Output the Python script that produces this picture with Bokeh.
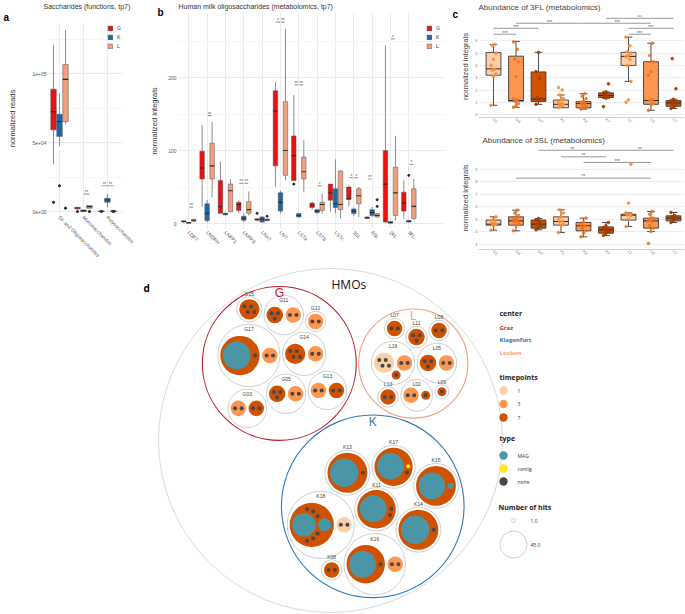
import math
import numpy as np
from bokeh.plotting import figure
from bokeh.layouts import row, column
from bokeh.models import (ColumnDataSource, Range1d, FixedTicker, Title,
                          Legend, LegendItem)
from bokeh.core.properties import value
from bokeh.embed import file_html
from bokeh.resources import INLINE

SC = 1.0


def S(v):
    return int(round(v * SC))


FONT = "Liberation Sans"
TXT = "#333333"

# ------------------------------------------------------------------ data a
a_cats = ["Di- and Oligosaccharides", "Monosaccharides", "Polysaccharides"]
groups = ["G", "K", "L"]
a_q1 = [[59300, 2000, 0], [54500, 0, 6700], [65300, 2400, 0]]
a_med = [[72500, 2600, 200], [65300, 500, 8400], [95900, 3600, 300]]
a_q3 = [[88800, 3000, 400], [70600, 1200, 9600], [106700, 4300, 500]]
a_lo = [[34200, 1200, 0], [47400, 0, 3100], [63400, 2000, 0]]
a_hi = [[120800, 3200, 500], [85600, 1500, 12700], [131800, 4500, 700]]
a_out_cat = [0, 0, 0, 1, 1, 2, 2]
a_out_grp = [0, 1, 2, 0, 2, 0, 2]
a_out_val = [6700, 18700, 2400, 0, 0, 0, 0]
a_sig_cat = [1, 2, 2]
a_sig_grp = [1, 0, 1]
a_sig_y = [12700, 18700, 18700]
a_sig_lab = ["**", "**", "**"]

# ------------------------------------------------------------------ data b
b_cats = ["LDFT", "LNDFH", "LNFP1", "LNFP3", "LNnT", "LNT", "LSTa", "LSTb",
          "LSTc", "3SL", "6SL", "2FL", "3FL"]
b_q1 = [[2, 61, 14, 18, 4.5, 79, 59, 22, 32, 33, 7, 2, 17],
        [0.5, 4, 12, 4.5, 2, 17, 9, 15, 22, 13.6, 11, 0.5, 2],
        [3, 61, 16, 14, 4, 66, 61, 18, 19, 27, 9, 11, 7]]
b_med = [[3, 76, 23, 26, 5.5, 154, 93, 25, 42, 34, 8, 54, 28],
         [1, 14, 13, 7, 6, 29, 11, 17, 27, 17, 15, 1.5, 3],
         [4.5, 79, 45, 19, 5, 100, 71, 26, 26, 38, 11, 42, 23.5]]
b_q3 = [[3.5, 99, 59, 29, 6.5, 182, 120, 28, 54, 50, 9, 100, 43],
        [1.5, 27, 14, 10, 9, 42, 13.6, 19, 47.5, 20, 19, 2.5, 4],
        [5.5, 110, 54, 30, 6, 167, 91, 29, 72, 47.5, 13.6, 77, 47.5]]
b_lo = [[1, 23, 14, 14, 3, 50, 59, 19, 16, 23.5, 6.5, 1, 7],
        [0, 2, 11, 2, 1, 14, 8, 13, 14, 10, 9, 0, 1],
        [2, 36, 15, 11, 3, 59, 43, 13.6, 7, 9, 8, 4.5, 4.5]]
b_hi = [[4, 135, 85, 32, 7, 194, 176, 30, 54, 52, 9.5, 244, 59],
        [2, 32, 15, 14, 10, 45, 14, 20, 88, 22, 22.6, 3, 5],
        [7, 139, 61, 44, 7, 267, 114, 41, 73, 50, 14, 120, 61]]
b_out_cat = [4, 4, 6, 10, 10, 12]
b_out_grp = [0, 2, 0, 2, 2, 1]
b_out_val = [14, 10, 54, 23.5, 32.6, 66]
b_sig_cat = [0, 1, 3, 3, 5, 5, 6, 6, 7, 9, 9, 10, 11, 12]
b_sig_grp = [1, 1, 0, 1, 0, 1, 0, 1, 1, 0, 1, 0, 1, 1]
b_sig_y = [22.6, 148, 55, 55, 276, 276, 190, 190, 52, 63, 63, 61, 253, 81]
b_sig_lab = ["**", "**", "**", "**", "*", "**", "**", "**", "*", "*", "*",
             "**", "*", "*"]

# ------------------------------------------------------------------ data c
c_labels = ["G1", "G3", "G7", "K1", "K3", "K7", "L1", "L3", "L7"]
c_tp = [1, 3, 7, 1, 3, 7, 1, 3, 7]
fl_q1 = [3.2, 1.1, 1.07, 0.56, 0.55, 1.39, 4.0, 0.84, 0.68]
fl_med = [3.72, 1.15, 1.27, 0.84, 0.9, 1.55, 4.73, 1.15, 0.95]
fl_q3 = [5.05, 4.75, 3.47, 1.19, 1.06, 1.77, 5.06, 4.3, 1.14]
fl_lo = [0.76, 0.6, 0.84, 0.6, 0.45, 1.3, 2.7, 0.35, 0.5]
fl_hi = [5.7, 5.95, 5.06, 1.6, 1.7, 1.85, 6.3, 5.8, 1.25]
fl_pts = [[0.76, 3.1, 3.3, 3.6, 3.7, 4.0, 4.5, 5.0, 5.6, 5.7],
          [0.6, 0.7, 0.9, 1.1, 1.2, 1.3, 3.1, 4.3, 4.5, 5.3, 5.9],
          [0.84, 1.1, 1.3, 1.4, 2.95, 3.5, 5.06],
          [0.6, 0.7, 0.8, 0.85, 0.9, 1.0, 1.2, 1.3, 1.6, 2.0, 2.2],
          [0.45, 0.6, 0.7, 0.85, 0.9, 1.0, 1.1, 1.3, 1.5, 1.7],
          [0.65, 1.35, 1.45, 1.55, 1.6, 1.75, 1.85, 2.5],
          [1.0, 1.2, 2.7, 4.0, 4.5, 4.7, 4.8, 5.0, 5.1, 5.6, 6.3],
          [0.35, 0.8, 0.9, 1.15, 1.2, 3.2, 3.5, 4.3, 4.8, 5.8],
          [0.5, 0.6, 0.75, 0.9, 1.0, 1.1, 1.25, 2.1, 4.55]]
fl_sig_x0 = [0, 0, 1, 4, 5, 6, 6]
fl_sig_x1 = [1, 2, 4, 7, 8, 8, 7]
fl_sig_y = [6.53, 7.01, 7.42, 7.42, 7.82, 7.01, 6.53]
fl_sig_lab = ["***"] * 7

sl_q1 = [4.54, 4.54, 4.3, 4.54, 4.09, 3.9, 4.94, 4.3, 4.88]
sl_med = [4.62, 4.88, 4.62, 4.83, 4.49, 4.17, 5.33, 4.88, 5.1]
sl_q3 = [4.94, 5.2, 4.94, 5.2, 4.75, 4.4, 5.41, 5.1, 5.28]
sl_lo = [4.14, 4.09, 4.17, 3.95, 3.61, 3.72, 4.43, 4.03, 4.75]
sl_hi = [5.2, 5.73, 5.07, 5.76, 5.1, 4.75, 5.52, 5.63, 5.55]
sl_pts = [[4.14, 4.5, 4.6, 4.65, 4.7, 4.9, 5.0, 5.2],
          [4.09, 4.5, 4.7, 4.8, 4.9, 5.0, 5.1, 5.3, 5.5, 5.73],
          [4.17, 4.35, 4.5, 4.62, 4.8, 4.95, 5.07],
          [3.95, 4.5, 4.6, 4.8, 4.85, 5.0, 5.2, 5.5, 5.76],
          [3.61, 3.9, 4.1, 4.3, 4.5, 4.6, 4.8, 5.1],
          [3.72, 3.9, 4.0, 4.15, 4.2, 4.35, 4.5, 4.75],
          [4.43, 5.0, 5.3, 5.35, 5.4, 5.52, 6.29, 9.39],
          [3.08, 4.03, 4.3, 4.5, 4.8, 4.9, 5.0, 5.1, 5.4, 5.63],
          [4.75, 4.9, 5.1, 5.2, 5.3, 5.55]]
sl_sig_x0 = [2, 5, 3, 4, 1]
sl_sig_x1 = [5, 8, 5, 7, 7]
sl_sig_y = [10.5, 10.5, 9.98, 9.53, 8.28]
sl_sig_lab = ["**", "**", "**", "***", "**"]

# ------------------------------------------------------------------ data d
d_samples = ["G17", "G14", "G11", "G05", "G15", "G03", "G13", "G12",
             "K18", "K16", "K11", "K08", "K13", "K14", "K17", "K15",
             "L18", "L05", "L02", "L11", "L13", "L09", "L07", "L08"]
bubble_sample = ["G17", "G17", "G14", "G14", "G11", "G11", "G05", "G05",
                 "G13", "G13", "G03", "G03", "G15", "G12",
                 "K18", "K18", "K16", "K16", "K11", "K13", "K17", "K14",
                 "K15", "K08",
                 "L18", "L18", "L18", "L05", "L05", "L02", "L02", "L11",
                 "L07", "L08", "L13", "L09"]
bubble_tp = [7, 3, 7, 3, 7, 3, 7, 3, 3, 7, 3, 7, 7, 3,
             7, 1, 7, 3, 7, 7, 7, 7, 7, 7,
             1, 3, 7, 7, 3, 3, 7, 7, 7, 7, 7, 7]
bubble_mag = [[48], [], [], [], [], [], [], [], [], [], [], [], [], [],
              [34, 11], [], [45], [], [45], [50], [44], [50], [44, 2], [],
              [], [], [], [], [], [], [], [], [], [], [], []]
bubble_contig = [0] * 20 + [1] + [0] * 15
bubble_none = [1, 2, 4, 2, 3, 2, 3, 2, 2, 2, 2, 2, 4, 2,
               6, 2, 1, 2, 2, 1, 1, 1, 0, 2,
               4, 2, 1, 3, 2, 2, 1, 3, 2, 2, 2, 1]
center_keys = ["K", "G", "L"]
center_names = ["Graz", "Klagenfurt", "Leoben"]
center_colors = ["#be1e2d", "#2b78b9", "#f5a082"]
tp_levels = [1, 3, 7]
tp_colors = ["#fdcfa8", "#fd9650", "#d05200"]
hit_types = ["MAG", "contig", "none"]
hit_colors = ["#4a96a6", "#fde725", "#474747"]
size_legend = [1.0, 45.0]

GRP_COL = ["#ee1010", "#1b69a6", "#f0a07d"]


# ------------------------------------------------------------------ helpers
def make_fig(g, xr, yr, **kw):
    x0, y0, w, h, fl, ft, fr, fb = g
    p = figure(width=S(w), height=S(h),
               x_range=Range1d(*xr), y_range=Range1d(*yr),
               output_backend="svg", toolbar_location=None,
               min_border_left=S(fl - x0),
               min_border_right=S(w) - S(fr - x0),
               min_border_top=S(ft - y0),
               min_border_bottom=S(h) - S(fb - y0), **kw)
    p.title_location = None
    p.outline_line_color = None
    p.background_fill_color = "white"
    p.border_fill_color = "white"
    return p


def add_titles(p, letter, l_off, l_stand, text, t_size, t_off, t_stand,
               t_color=TXT):
    if letter:
        p.add_layout(Title(text=letter, align="left", offset=l_off,
                           standoff=l_stand, text_font=FONT,
                           text_font_size="10px", text_font_style="bold",
                           text_color="#000000"), "above")
    p.add_layout(Title(text=text, align="left", offset=t_off,
                       standoff=t_stand, text_font=FONT,
                       text_font_size=t_size, text_font_style="normal",
                       text_color=t_color), "above")


def gg_style(p, ylabel, ystandoff):
    p.xgrid.grid_line_color = "#ebebeb"
    p.ygrid.grid_line_color = "#ebebeb"
    p.ygrid.minor_grid_line_color = "#f5f5f5"
    p.axis.axis_line_color = None
    p.axis.major_tick_line_color = None
    p.axis.minor_tick_line_color = None
    p.axis.major_tick_out = 0
    p.axis.major_tick_in = 0
    p.axis.minor_tick_out = 0
    p.axis.major_label_text_font = FONT
    p.axis.major_label_text_font_size = "5px"
    p.axis.major_label_text_color = "#555555"
    p.axis.major_label_standoff = 2
    p.yaxis.axis_label = ylabel
    p.yaxis.axis_label_text_font = FONT
    p.yaxis.axis_label_text_font_size = "7.5px"
    p.yaxis.axis_label_text_font_style = "normal"
    p.yaxis.axis_label_text_color = TXT
    p.yaxis.axis_label_standoff = ystandoff


def dodge_boxes(p, ncat, q1, med, q3, lo, hi, off, w):
    rends = []
    for gi in range(3):
        xc = np.arange(ncat) + (gi - 1) * off
        src = ColumnDataSource(dict(x=xc, q1=q1[gi], med=med[gi], q3=q3[gi],
                                    lo=lo[gi], hi=hi[gi],
                                    x0=xc - w / 2, x1=xc + w / 2))
        p.segment("x", "q3", "x", "hi", source=src, line_color="#707070",
                  line_width=0.8)
        p.segment("x", "lo", "x", "q1", source=src, line_color="#707070",
                  line_width=0.8)
        r = p.vbar(x="x", width=w, bottom="q1", top="q3", source=src,
                   fill_color=GRP_COL[gi], line_color="#505050",
                   line_width=0.5)
        p.segment("x0", "med", "x1", "med", source=src, line_color="#2a2a2a",
                  line_width=1.1)
        rends.append(r)
    return rends


def sig_marks(p, x0, x1, y, labs, lift, size, lc="#a0a0a0", lw=1.2):
    x0 = np.asarray(x0, float)
    x1 = np.asarray(x1, float)
    y = np.asarray(y, float)
    p.segment(x0, y, x1, y, line_color=lc, line_width=lw)
    p.text((x0 + x1) / 2, y + lift, text=labs, text_font=value(FONT),
           text_font_size=size, text_color="#555555", text_align="center",
           text_baseline="alphabetic")


def small_legend(rends, loc):
    leg = Legend(items=[LegendItem(label=g, renderers=[r])
                        for g, r in zip(groups, rends)])
    leg.location = loc
    leg.glyph_width = 6
    leg.glyph_height = 6
    leg.label_height = 6
    leg.label_width = 4
    leg.label_standoff = 4
    leg.spacing = 3
    leg.padding = 1
    leg.margin = 0
    leg.label_text_font = FONT
    leg.label_text_font_size = "5px"
    leg.label_text_color = TXT
    leg.background_fill_alpha = 0
    leg.border_line_color = None
    return leg


# ------------------------------------------------------------------ panel a
GA = (0, 0, 145, 265, 48, 20, 122, 214)
pa = make_fig(GA, (-0.46, 2.63), (-2150, 137200))
gg_style(pa, "normalized reads", 12)
add_titles(pa, "a", -45, 0, "Saccharides (functions, tp7)", "7px", -5, 0)
pa.xaxis.ticker = FixedTicker(ticks=[0, 1, 2])
pa.xaxis.major_label_overrides = {i: c for i, c in enumerate(a_cats)}
pa.xaxis.major_label_orientation = -math.pi / 4
pa.yaxis.ticker = FixedTicker(ticks=[0, 50000, 100000],
                              minor_ticks=[25000, 75000, 125000])
pa.yaxis.major_label_overrides = {0: "0e+00", 50000: "5e+04",
                                  100000: "1e+05"}
A_OFF = 0.25
ra = dodge_boxes(pa, 3, a_q1, a_med, a_q3, a_lo, a_hi, A_OFF, 0.23)
pa.scatter(np.array(a_out_cat) + (np.array(a_out_grp) - 1) * A_OFF,
           a_out_val, size=2.2, color="#222222")
sig_marks(pa, np.array(a_sig_cat) + (np.array(a_sig_grp) - 1) * A_OFF,
          np.array(a_sig_cat) + np.array(a_sig_grp) * A_OFF,
          a_sig_y, a_sig_lab, 900, "4.5px")
pa.add_layout(small_legend(ra, (107 - 48, 214 - 49)))

# ------------------------------------------------------------------ panel b
GB = (145, 0, 300, 265, 178, 11, 445, 229)
pb = make_fig(GB, (-0.56, 14.0), (-8.2, 289.2))
gg_style(pb, "normalized integrals", 6)
add_titles(pb, "b", -21, -11, "Human milk oligosaccharides (metabolomics, tp7)",
           "7px", 0, 1)
pb.xaxis.ticker = FixedTicker(ticks=list(range(len(b_cats))))
pb.xaxis.major_label_overrides = {i: c for i, c in enumerate(b_cats)}
pb.xaxis.major_label_orientation = -math.pi / 4
pb.yaxis.ticker = FixedTicker(ticks=[0, 100, 200], minor_ticks=[50, 150, 250])
B_OFF = 0.273
rb = dodge_boxes(pb, len(b_cats), b_q1, b_med, b_q3, b_lo, b_hi, B_OFF, 0.245)
pb.scatter(np.array(b_out_cat) + (np.array(b_out_grp) - 1) * B_OFF,
           b_out_val, size=2.0, color="#222222")
sig_marks(pb, np.array(b_sig_cat) + (np.array(b_sig_grp) - 1) * B_OFF + 0.03,
          np.array(b_sig_cat) + np.array(b_sig_grp) * B_OFF - 0.03,
          b_sig_y, b_sig_lab, 2, "4.5px")
pb.add_layout(small_legend(rb, (426 - 178, 229 - 49)))


# ------------------------------------------------------------------ panel c
def c_panel(g, yr, yticks, q1, med, q3, lo, hi, pts, sx0, sx1, sy, slab):
    p = make_fig(g, (-0.667, 8.49), yr)
    p.xgrid.grid_line_color = None
    p.ygrid.grid_line_color = "#eeeeee"
    p.yaxis.axis_line_color = None
    p.xaxis.axis_line_color = "#d0d0d0"
    p.axis.major_tick_line_color = None
    p.axis.minor_tick_line_color = None
    p.axis.major_tick_out = 0
    p.axis.major_tick_in = 0
    p.axis.minor_tick_out = 0
    p.axis.major_label_text_font = FONT
    p.axis.major_label_text_font_size = "4px"
    p.axis.major_label_text_color = "#777777"
    p.axis.major_label_standoff = 1
    p.xaxis.ticker = FixedTicker(ticks=list(range(len(c_labels))))
    p.xaxis.major_label_overrides = {i: c for i, c in enumerate(c_labels)}
    p.xaxis.major_label_orientation = -math.pi / 4
    p.yaxis.ticker = FixedTicker(ticks=yticks)
    p.yaxis.axis_label = "normalized integrals"
    p.yaxis.axis_label_text_font = FONT
    p.yaxis.axis_label_text_font_size = "7.5px"
    p.yaxis.axis_label_text_font_style = "normal"
    p.yaxis.axis_label_text_color = "#444444"
    p.yaxis.axis_label_standoff = 2
    xc = np.arange(len(c_labels), dtype=float)
    w = 0.66
    cw = 0.34
    fills = [tp_colors[tp_levels.index(t)] for t in c_tp]
    src = ColumnDataSource(dict(x=xc, q1=q1, med=med, q3=q3, lo=lo, hi=hi,
                                x0=xc - w / 2, x1=xc + w / 2,
                                c0=xc - cw / 2, c1=xc + cw / 2, fill=fills))
    p.segment("x", "q3", "x", "hi", source=src, line_color="#3a3a3a",
              line_width=0.9)
    p.segment("x", "lo", "x", "q1", source=src, line_color="#3a3a3a",
              line_width=0.9)
    p.segment("c0", "hi", "c1", "hi", source=src, line_color="#3a3a3a",
              line_width=0.9)
    p.segment("c0", "lo", "c1", "lo", source=src, line_color="#3a3a3a",
              line_width=0.9)
    p.vbar(x="x", width=w, bottom="q1", top="q3", source=src,
           fill_color="fill", line_color="#3a3a3a", line_width=0.9)
    p.segment("x0", "med", "x1", "med", source=src, line_color="#2a2a2a",
              line_width=1.0)
    pcol = {1: "#fd8d3c", 3: "#ee7420", 7: "#a13c00"}
    px, py, pc = [], [], []
    for i, vals in enumerate(pts):
        for k, v in enumerate(vals):
            px.append(i + (((k * 7) % 5) - 2) * 0.055)
            py.append(v)
            pc.append(pcol[c_tp[i]])
    p.scatter(px, py, size=2.6, color=pc, alpha=0.9)
    yspan = yr[1] - yr[0]
    sig_marks(p, sx0, sx1, sy, slab, yspan * 0.012, "4.5px",
              lc="#8c8c8c", lw=0.9)
    return p


GC1 = (445, 0, 240, 128, 478, 12, 684, 121)
pc1 = c_panel(GC1, (-0.23, 8.05), list(range(0, 7)), fl_q1, fl_med, fl_q3,
              fl_lo, fl_hi, fl_pts, fl_sig_x0, fl_sig_x1, fl_sig_y, fl_sig_lab)
add_titles(pc1, "c", -26, -9, "Abundance of 3FL (metabolomics)", "8px", 0, 0,
           "#444444")

GC2 = (445, 128, 240, 137, 478, 146, 684, 249)
pc2 = c_panel(GC2, (2.6, 10.8), list(range(3, 10)), sl_q1, sl_med, sl_q3,
              sl_lo, sl_hi, sl_pts, sl_sig_x0, sl_sig_x1, sl_sig_y, sl_sig_lab)
add_titles(pc2, None, 0, 0, "Abundance of 3SL (metabolomics)", "8px", 4, 4,
           "#444444")

# ------------------------------------------------------------------ panel d
R1 = 2.1
PAD = 1.3


def tangent_points(a, ra, b, rb, rc):
    dx, dy = b[0] - a[0], b[1] - a[1]
    d = math.hypot(dx, dy)
    da, db = ra + rc, rb + rc
    if d < 1e-9 or d > da + db + 1e-9 or d < abs(da - db) - 1e-9:
        return []
    x = (da * da - db * db + d * d) / (2 * d)
    h = math.sqrt(max(da * da - x * x, 0.0))
    ux, uy = dx / d, dy / d
    px, py = a[0] + ux * x, a[1] + uy * x
    return [(px - uy * h, py + ux * h), (px + uy * h, py - ux * h)]


def enclose(pos, rad):
    if len(pos) == 1:
        return pos[0][0], pos[0][1], rad[0]

    def fmax(cx, cy):
        return max(math.hypot(x - cx, y - cy) + r for (x, y), r in zip(pos, rad))

    cx = sum(p[0] for p in pos) / len(pos)
    cy = sum(p[1] for p in pos) / len(pos)
    for it in range(1, 1500):
        best = -1
        for (x, y), r in zip(pos, rad):
            d = math.hypot(x - cx, y - cy)
            if d + r > best:
                best, fx, fy, fr, fd = d + r, x, y, r, d
        if fd > 1e-9:
            qx, qy = fx + (fx - cx) / fd * fr, fy + (fy - cy) / fd * fr
        else:
            qx, qy = fx + fr, fy
        cx += (qx - cx) / (it + 1)
        cy += (qy - cy) / (it + 1)
    step = fmax(cx, cy) * 0.05
    cur = fmax(cx, cy)
    while step > 1e-5:
        moved = False
        for t in range(16):
            a = 2 * math.pi * t / 16
            nx, ny = cx + step * math.cos(a), cy + step * math.sin(a)
            v = fmax(nx, ny)
            if v < cur - 1e-12:
                cx, cy, cur, moved = nx, ny, v, True
                break
        if not moved:
            step /= 2
    return cx, cy, cur


def pack(radii, pad, angle0, side):
    R = [r + pad for r in radii]
    n = len(R)
    pos = [(0.0, 0.0)]
    ax, ay = math.cos(angle0), math.sin(angle0)
    if n > 1:
        d = R[0] + R[1]
        pos.append((d * ax, d * ay))
    for i in range(2, n):
        r = R[i]
        w = sum(R[j] ** 2 for j in range(i))
        gx = sum(pos[j][0] * R[j] ** 2 for j in range(i)) / w
        gy = sum(pos[j][1] * R[j] ** 2 for j in range(i)) / w
        cands = []
        for j in range(i):
            for k in range(j + 1, i):
                cands += tangent_points(pos[j], R[j], pos[k], R[k], r)
        for j in range(i):
            for t in range(36):
                a = 2 * math.pi * t / 36
                cands.append((pos[j][0] + (R[j] + r) * math.cos(a),
                              pos[j][1] + (R[j] + r) * math.sin(a)))
        best, bs = None, 1e18
        for (x, y) in cands:
            if any(math.hypot(x - pos[m][0], y - pos[m][1]) < R[m] + r - 1e-6
                   for m in range(i)):
                continue
            cross = ax * y - ay * x
            s_ = math.hypot(x - gx, y - gy) - 1e-3 * side * cross
            if s_ < bs:
                bs, best = s_, (x, y)
        pos.append(best)
    cx, cy, E = enclose(pos, R)
    return [(x - cx, y - cy) for x, y in pos], E + pad


bubbles = []
for b in range(len(bubble_sample)):
    hits = [(R1 * math.sqrt(m), "MAG") for m in sorted(bubble_mag[b], reverse=True)]
    hits += [(R1, "contig")] * bubble_contig[b] + [(R1, "none")] * bubble_none[b]
    rel, rr = pack([h[0] for h in hits], PAD, 0.0, -1)
    bubbles.append(dict(r=rr, hits=[(rel[i][0], rel[i][1], hits[i][0], hits[i][1])
                                    for i in range(len(hits))]))
samples = {}
for s in d_samples:
    idx = [b for b in range(len(bubble_sample)) if bubble_sample[b] == s]
    rel, rr = pack([bubbles[b]["r"] for b in idx], PAD, 0.0, -1)
    samples[s] = dict(r=rr, kids=list(zip(idx, rel)))
center_pack = {"G": (0.03, 1), "K": (-0.63, 1), "L": (0.0, -1)}
centers = {}
for c in center_keys:
    ss = [s for s in d_samples if s[0] == c]
    rel, rr = pack([samples[s]["r"] for s in ss], PAD, *center_pack[c])
    centers[c] = dict(r=rr, kids=list(zip(ss, rel)))
root_rel, root_r = pack([centers[c]["r"] for c in center_keys], PAD, 2.15, -1)

ROOT_X, ROOT_Y, ROOT_R = 330.0, -440.0, 172.0
k = ROOT_R / root_r

circ = dict(x=[], y=[], r=[], fill=[], line=[], lw=[])
tp_c = dict(x=[], y=[], r=[], fill=[])
hit_c = dict(x=[], y=[], r=[], fill=[])
s_lab = dict(x=[], y=[], t=[])
c_lab = dict(x=[], y=[], t=[], col=[])

circ["x"].append(ROOT_X); circ["y"].append(ROOT_Y); circ["r"].append(ROOT_R)
circ["fill"].append("white"); circ["line"].append("#d9d9d9"); circ["lw"].append(1.0)
for ci, c in enumerate(center_keys):
    cx = ROOT_X + root_rel[ci][0] * k
    cy = ROOT_Y + root_rel[ci][1] * k
    cr = centers[c]["r"] * k
    col = center_colors[["G", "K", "L"].index(c)]
    circ["x"].append(cx); circ["y"].append(cy); circ["r"].append(cr)
    circ["fill"].append("white"); circ["line"].append(col); circ["lw"].append(1.1)
    c_lab["x"].append(cx); c_lab["y"].append(cy + cr - 7); c_lab["t"].append(c)
    c_lab["col"].append(col)
    for s, (sx_, sy_) in centers[c]["kids"]:
        sx = cx + sx_ * k
        sy = cy + sy_ * k
        sr = samples[s]["r"] * k
        circ["x"].append(sx); circ["y"].append(sy); circ["r"].append(sr)
        circ["fill"].append("white"); circ["line"].append("#cfcfcf")
        circ["lw"].append(1.0)
        single = len(samples[s]["kids"]) == 1
        s_lab["x"].append(sx)
        s_lab["y"].append(sy + sr + 3 if single else sy + sr - 5)
        s_lab["t"].append(s)
        for b, (bx_, by_) in samples[s]["kids"]:
            bx = sx + bx_ * k
            by = sy + by_ * k
            tp_c["x"].append(bx); tp_c["y"].append(by)
            tp_c["r"].append(bubbles[b]["r"] * k)
            tp_c["fill"].append(tp_colors[tp_levels.index(bubble_tp[b])])
            for hx, hy, hr, ht in bubbles[b]["hits"]:
                hit_c["x"].append(bx + hx * k); hit_c["y"].append(by + hy * k)
                hit_c["r"].append(hr * k)
                hit_c["fill"].append(hit_colors[hit_types.index(ht)])

pd_ = figure(width=S(685), height=S(348), x_range=Range1d(0, 685),
             y_range=Range1d(-613, -265), output_backend="svg",
             toolbar_location=None, min_border=0, x_axis_location=None,
             y_axis_location=None)
pd_.title_location = None
pd_.grid.visible = False
pd_.outline_line_color = None
pd_.background_fill_color = "white"
pd_.circle("x", "y", radius="r", fill_color="fill", line_color="line",
           line_width="lw", source=ColumnDataSource(circ))
pd_.circle("x", "y", radius="r", fill_color="fill", line_color=None,
           source=ColumnDataSource(tp_c))
pd_.circle("x", "y", radius="r", fill_color="fill", line_color=None,
           source=ColumnDataSource(hit_c))
pd_.text("x", "y", text="t", source=ColumnDataSource(s_lab),
         text_font=value(FONT), text_font_size="5px", text_color="#444444",
         text_align="center", text_baseline="middle")
pd_.text("x", "y", text="t", source=ColumnDataSource(c_lab),
         text_font=value(FONT), text_font_size="12px", text_color="col",
         text_align="center", text_baseline="middle")


def dtext(x, y, t, size, color="#222222", bold=False, align="left"):
    pd_.text([x], [-y], text=[t], text_font=value("Open Sans"),
             text_font_size=size, text_color=color,
             text_font_style="bold" if bold else "normal",
             text_align=align, text_baseline="middle")


dtext(ROOT_X + 1, -(ROOT_Y + ROOT_R) + 16, "HMOs", "12px", color="#111111")
dtext(143, 287, "d", "10px", color="#000000", bold=True)

LX = 499
dtext(LX, 313, "center", "7px", bold=True)
for i, (nm, col) in enumerate(zip(center_names, center_colors)):
    dtext(LX, 327 + 12.5 * i, nm, "6px", color=col, bold=True)
dtext(LX, 377, "timepoints", "7px", bold=True)
pd_.circle([LX + 4] * 3, [-(390 + 13.5 * i) for i in range(3)], radius=4.2,
           fill_color=tp_colors, line_color=None)
for i, t in enumerate(tp_levels):
    dtext(LX + 18, 390 + 13.5 * i, str(t), "5px", color="#333333")
dtext(LX, 438, "type", "7px", bold=True)
pd_.circle([LX + 4] * 3, [-(455 + 13 * i) for i in range(3)], radius=4.2,
           fill_color=hit_colors, line_color=None)
for i, t in enumerate(hit_types):
    dtext(LX + 18, 455 + 13 * i, t, "5px", color="#333333")
dtext(LX - 1, 507, "Number of hits", "7px", bold=True)
sz_r = [R1 * math.sqrt(v) * k for v in size_legend]
pd_.circle([LX + 14] * 2, [-520, -544], radius=sz_r, fill_color="white",
           line_color="#cfcfcf", line_width=1)
for v, yy in zip(size_legend, [520, 544]):
    dtext(LX + 31, yy, "%.1f" % v, "5px", color="#333333")

top = row(column(pa), column(pb), column(pc1, pc2, spacing=0), spacing=0)
layout = column(top, pd_, spacing=0)
open("out.html", "w").write(file_html(layout, INLINE))
